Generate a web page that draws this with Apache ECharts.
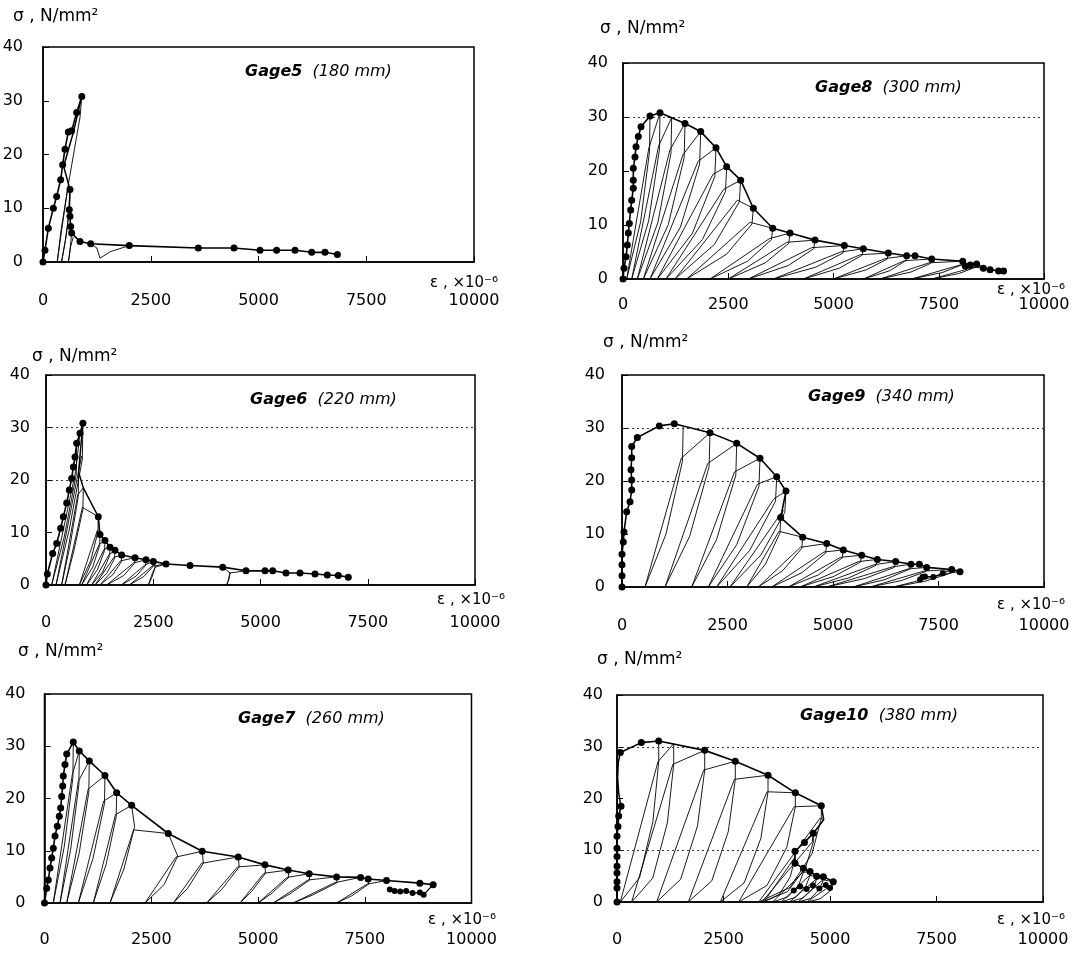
<!DOCTYPE html>
<html><head><meta charset="utf-8">
<script src="https://cdn.jsdelivr.net/npm/echarts/dist/echarts.min.js"></script>
<style>html,body{margin:0;padding:0;background:#fff}#c{width:1086px;height:953px}</style>
</head><body><div id="c"></div>
<script>
// ---------- tick labels / names ----------
const xTicks = [0, 2500, 5000, 7500, 10000];
const yTicks = [0, 10, 20, 30, 40];
const gageNames = ['Gage5', 'Gage8', 'Gage6', 'Gage9', 'Gage7', 'Gage10'];
const gageLengths = ['(180 mm)', '(300 mm)', '(220 mm)', '(340 mm)', '(260 mm)', '(380 mm)'];
const yName = 'σ , N/mm²';
const xName = 'ε , ×10⁻⁶';

// ---------- Gage5 ----------
const env5Rise = [[0,0],[46,2.2],[124,6.3],[240,10],[317,12.2],[410,15.3],[456,18.1],[510,21],[588,24.2],[665,24.4],[781,27.8],[900,30.8]];
const link5 = [[900,30.8],[700,24],[480,17.8],[626,13.5]];
const env5Tail = [[626,13.5],[610,9.7],[626,8.5],[642,6.6],[665,5.4],[858,3.8],[1106,3.4],[2002,3.05],[3603,2.6],[4432,2.6],[5035,2.2],[5420,2.2],[5847,2.2],[6234,1.8],[6543,1.8],[6830,1.4]];
const loops5 = [
  [[900,30.8],[860,27],[600,15],[420,6],[330,0],[470,8],[580,14],[626,13.5]],
  [[626,13.5],[600,9],[520,4],[430,0],[540,5],[610,9.7]],
  [[665,5.4],[630,2.5],[590,0],[640,2.8],[700,4.6]],
  [[1106,3.4],[1250,2.6],[1322,0.7],[1555,1.9],[2002,3.05]]
];
const gridLines5 = [];

// ---------- Gage8 ----------
const env8 = [[0,0],[24,2.0],[71,4.1],[103,6.3],[127,8.5],[150,10.3],[182,12.8],[206,14.6],[245,16.8],[245,18.3],[245,20.5],[285,22.6],[309,24.5],[364,26.4],[428,28.2],[641,30.2],[879,30.8],[1473,28.8],[1845,27.3],[2209,24.3],[2463,20.8],[2795,18.3],[3096,13.1],[3556,9.4],[3967,8.5],[4561,7.2],[5257,6.2],[5708,5.6],[6302,4.8],[6739,4.3],[6936,4.3],[7333,3.7],[8069,3.3],[8130,2.4],[8250,2.6],[8401,2.8],[8560,2.0],[8720,1.7],[8920,1.5],[9040,1.5]];
const loops8 = [
  [[641,30.2],[630,23.6],[419,10.6],[87,0],[613,24.2],[879,30.8]],
  [[879,30.8],[866,24.0],[610,10.8],[206,0],[845,24.6],[1156,29.9]],
  [[1156,29.9],[1140,23.3],[830,10.5],[340,0],[1115,23.9],[1473,28.8]],
  [[1473,28.8],[1453,22.5],[1077,10.1],[483,0],[1423,23.0],[1845,27.3]],
  [[1845,27.3],[1821,21.3],[1363,9.6],[641,0],[1785,21.8],[2209,24.3]],
  [[2209,24.3],[2181,19.0],[1651,8.5],[815,0],[2139,19.4],[2463,20.8]],
  [[2463,20.8],[2434,16.2],[1886,7.3],[1021,0],[2391,16.6],[2795,18.3]],
  [[2795,18.3],[2764,14.3],[2171,6.4],[1235,0],[2717,14.6],[3096,13.1]],
  [[3096,13.1],[3064,10.2],[2462,4.6],[1512,0],[3017,10.5],[3556,9.4]],
  [[3556,9.4],[3526,7.3],[2960,3.3],[2067,0],[3482,7.5],[3967,8.5]],
  [[3967,8.5],[3938,6.6],[3381,3.0],[2502,0],[3894,6.8],[4561,7.2]],
  [[4561,7.2],[4529,5.6],[3927,2.5],[2977,0],[4482,5.8],[5257,6.2]],
  [[5257,6.2],[5223,4.8],[4583,2.2],[3571,0],[5173,5.0],[5708,5.6]],
  [[5708,5.6],[5680,4.4],[5138,2.0],[4283,0],[5637,4.5],[6302,4.8]],
  [[6302,4.8],[6276,3.7],[5780,1.7],[4996,0],[6237,3.8],[6739,4.3]],
  [[6739,4.3],[6718,3.4],[6327,1.5],[5708,0],[6687,3.4],[7333,3.7]],
  [[7333,3.7],[7308,2.9],[6842,1.3],[6105,0],[7272,3.0],[8069,3.3]],
  [[8069,3.3],[8045,2.6],[7584,1.2],[6857,0],[8008,2.6],[8401,2.8]],
  [[8401,2.8],[8380,2.2],[7974,1.0],[7333,0],[8348,2.2],[8560,2.0]]
];
const gridLines8 = [30];

// ---------- Gage6 ----------
const env6Rise = [[0,0],[31,2.1],[155,6.0],[249,7.9],[342,10.8],[404,13.0],[482,15.6],[544,18.1],[598,20.3],[637,22.5],[676,24.4],[715,27.0],[793,28.9],[860,30.8]];
const link6 = [[860,30.8],[760,21.5],[870,18.5],[1219,13.0]];
const env6Tail = [[1219,13.0],[1259,9.6],[1375,8.5],[1492,7.2],[1608,6.6],[1764,5.7],[2075,5.2],[2331,4.8],[2502,4.5],[2797,4.0],[3357,3.7],[4119,3.4],[4662,2.7],[5105,2.7],[5284,2.7],[5594,2.3],[5921,2.3],[6270,2.1],[6557,1.9],[6814,1.8],[7047,1.5]];
const loops6 = [
  [[715,27.0],[705,21],[420,9],[132,0],[690,21.6],[793,28.9]],
  [[860,30.8],[848,24],[540,10.5],[233,0],[830,24.6]],
  [[760,21.5],[752,16.8],[560,7.5],[365,0],[740,17.2],[870,18.5]],
  [[870,18.5],[860,14.4],[650,6.5],[443,0],[849,14.8],[1219,13.0]],
  [[1219,13.0],[1210,10.1],[1042,4.6],[777,0],[1197,10.4],[1259,9.6]],
  [[1259,9.6],[1250,7.5],[1088,3.4],[831,0],[1238,7.7],[1375,8.5]],
  [[1375,8.5],[1366,6.6],[1204,3.0],[948,0],[1354,6.8],[1492,7.2]],
  [[1492,7.2],[1483,5.6],[1321,2.5],[1064,0],[1471,5.8],[1608,6.6]],
  [[1608,6.6],[1599,5.1],[1422,2.3],[1142,0],[1585,5.3],[1764,5.7]],
  [[1764,5.7],[1754,4.4],[1562,2.0],[1259,0],[1739,4.6],[2075,5.2]],
  [[2075,5.2],[2062,4.1],[1811,1.8],[1415,0],[2042,4.2],[2331,4.8]],
  [[2331,4.8],[2320,3.7],[2103,1.7],[1760,0],[2302,3.8],[2502,4.5]],
  [[2502,4.5],[2491,3.5],[2278,1.6],[1943,0],[2474,3.6],[2797,4.0]],
  [[2502,4.5],[2545,3.4],[2470,1.5],[2385,0],[2480,2.2],[2545,3.4],[2797,4.0]],
  [[4119,3.4],[4290,2.3],[4250,1.0],[4212,0],[4270,1.2],[4290,2.3],[4662,2.7]]
];
const gridLines6 = [30, 20];

// ---------- Gage9 ----------
const env9 = [[0,0],[0,2.1],[0,4.2],[0,6.2],[31,8.5],[47,10.4],[111,14.2],[190,16.1],[230,18.3],[230,20.2],[213,22.1],[230,24.4],[230,26.5],[363,28.2],[884,30.4],[1239,30.8],[2085,29.1],[2718,27.1],[3270,24.3],[3666,20.8],[3886,18.1],[3760,13.1],[4282,9.4],[4851,8.2],[5245,7.0],[5680,6.0],[6050,5.2],[6486,4.8],[6848,4.3],[7046,4.3],[7220,3.7],[7813,3.3],[8010,2.9]];
const tail9 = [[7062,1.4],[7120,1.9],[7180,2.0],[7377,1.9],[7600,2.6],[7813,3.3]];
const loops9 = [
  [[1450,30.4],[1432,23.7],[1043,10.0],[545,0],[1405,24.3],[2085,29.1]],
  [[2085,29.1],[2064,22.7],[1605,9.6],[1019,0],[2032,23.3],[2718,27.1]],
  [[2718,27.1],[2697,21.1],[2238,8.9],[1651,0],[2665,21.7],[3270,24.3]],
  [[3270,24.3],[3246,19.0],[2719,8.0],[2045,0],[3209,19.4],[3666,20.8]],
  [[3666,20.8],[3638,16.2],[3026,6.9],[2243,0],[3595,16.6],[3886,18.1]],
  [[3886,18.1],[3859,14.1],[3289,6.0],[2559,0],[3820,14.5],[3760,13.1]],
  [[3760,13.1],[3744,10.2],[3398,4.3],[2955,0],[3720,10.5],[4282,9.4]],
  [[4282,9.4],[4261,7.3],[3809,3.1],[3230,0],[4229,7.5],[4851,8.2]],
  [[4851,8.2],[4825,6.4],[4264,2.7],[3547,0],[4786,6.6],[5245,7.0]],
  [[5245,7.0],[5219,5.5],[4658,2.3],[3941,0],[5180,5.6],[5680,6.0]],
  [[5680,6.0],[5651,4.7],[5022,2.0],[4218,0],[5607,4.8],[6050,5.2]],
  [[6050,5.2],[6020,4.1],[5368,1.7],[4534,0],[5974,4.2],[6486,4.8]],
  [[6486,4.8],[6453,3.7],[5750,1.6],[4850,0],[6404,3.8],[6848,4.3]],
  [[6848,4.3],[6821,3.4],[6233,1.4],[5482,0],[6780,3.4],[7220,3.7]],
  [[7220,3.7],[7193,2.9],[6616,1.2],[5877,0],[7153,3.0],[7813,3.3]],
  [[7813,3.3],[7785,2.6],[7191,1.1],[6430,0],[7744,2.6],[8010,2.9]]
];
const gridLines9 = [30, 20];

// ---------- Gage7 ----------
const env7 = [[0,0],[51,2.8],[89,4.4],[129,6.7],[168,8.6],[206,10.5],[246,12.8],[300,14.7],[346,16.6],[379,18.2],[403,20.4],[426,22.4],[440,24.3],[480,26.5],[520,28.5],[674,30.8],[815,29.1],[1049,27.2],[1416,24.4],[1690,21.1],[2041,18.7],[2898,13.3],[3694,9.9],[4537,8.8],[5162,7.3],[5707,6.3],[6199,5.6],[6840,5.0],[7402,4.9],[7580,4.6],[8010,4.3],[8790,3.8],[9102,3.5]];
const tail7 = [[8087,2.6],[8200,2.3],[8330,2.2],[8470,2.3],[8620,1.9],[8790,2.0],[8880,1.6],[9102,3.5]];
const loops7 = [
  [[674,30.8],[665,24.0],[463,10.8],[206,0],[651,24.6],[815,29.1]],
  [[815,29.1],[806,22.7],[612,10.2],[363,0],[792,23.3],[1049,27.2]],
  [[1049,27.2],[1038,21.2],[811,9.5],[519,0],[1023,21.8],[1416,24.4]],
  [[1416,24.4],[1404,19.0],[1135,8.5],[792,0],[1385,19.5],[1690,21.1]],
  [[1690,21.1],[1679,16.5],[1444,7.4],[1143,0],[1663,16.9],[2041,18.7]],
  [[2041,18.7],[2110,14.6],[1860,6.5],[1533,0],[2085,14.0],[2898,13.3]],
  [[2898,13.3],[3120,9.0],[2800,3.5],[2353,0],[3080,8.8],[3694,9.9]],
  [[3694,9.9],[3720,7.6],[3350,2.8],[3015,0],[3680,7.6],[4537,8.8]],
  [[4537,8.8],[4560,6.9],[4150,2.6],[3797,0],[4520,6.9],[5162,7.3]],
  [[5162,7.3],[5175,5.7],[4850,2.2],[4576,0],[5140,5.7],[5707,6.3]],
  [[5707,6.3],[5720,4.9],[5330,1.9],[5005,0],[5680,4.9],[6199,5.6]],
  [[6199,5.6],[6210,4.4],[5740,1.7],[5356,0],[6170,4.4],[6840,5.0]],
  [[6840,5.0],[6850,3.9],[6300,1.6],[5824,0],[6800,3.9],[7402,4.9]],
  [[7580,4.6],[7590,3.6],[7200,1.4],[6840,0],[7550,3.6],[8010,4.3]]
];
const gridLines7 = [];

// ---------- Gage10 ----------
const env10Rise = [[0,0],[0,2.7],[0,3.9],[0,5.6],[0,6.9],[0,8.8],[0,10.4],[0,12.7],[23,14.6],[39,16.6],[94,18.5]];
const link10 = [[94,18.5],[40,21],[15,24],[30,27],[78,28.9]];
const env10Top = [[78,28.9],[571,30.8],[979,31.1],[2059,29.3],[2777,27.2],[3545,24.5],[4186,21.1],[4796,18.6]];
const link10b = [[4796,18.6],[4852,15.9],[4609,13.3]];
const env10Low = [[4609,13.3],[4400,11.5],[4178,9.8],[4178,7.5],[4374,6.5],[4531,5.9],[4687,5.0],[4844,4.9],[5077,3.9]];
const tail10 = [[4150,2.2],[4300,3.0],[4450,2.5],[4600,3.2],[4750,2.6],[4900,3.3],[5000,2.7]];
const loops10 = [
  [[979,31.1],[979,27.1],[844,15.6],[529,4.7],[78,0],[961,27.1],[1331,30.6]],
  [[1331,30.6],[1331,26.6],[1183,15.3],[838,4.6],[344,0],[1311,26.6],[2059,29.3]],
  [[2059,29.3],[2059,25.5],[1890,14.7],[1495,4.4],[931,0],[2036,25.5],[2777,27.2]],
  [[2777,27.2],[2777,23.7],[2612,13.6],[2226,4.1],[1674,0],[2755,23.7],[3545,24.5]],
  [[3545,24.5],[3545,21.3],[3377,12.3],[2985,3.7],[2425,0],[3523,21.3],[4186,21.1]],
  [[4186,21.1],[4186,18.4],[3987,10.6],[3521,3.2],[2856,0],[4159,18.4],[4796,18.6]],
  [[4796,18.6],[4796,16.2],[4576,9.3],[4061,2.8],[3326,0],[4767,16.2],[4852,15.9]],
  [[4609,13.3],[4609,11.6],[4428,6.7],[4004,2.0],[3400,0],[4585,11.6],[4609,13.3]],
  [[4178,9.8],[4178,8.5],[4069,4.9],[3814,1.5],[3450,0],[4163,8.5]],
  [[4374,6.5],[4374,5.7],[4265,3.3],[4012,1.0],[3650,0],[4360,5.7],[4531,5.9]],
  [[4531,5.9],[4531,5.1],[4429,3.0],[4190,0.9],[3850,0],[4517,5.1],[4687,5.0]],
  [[4687,5.0],[4687,4.4],[4591,2.5],[4368,0.8],[4050,0],[4674,4.4],[4844,4.9]],
  [[4844,4.9],[4844,4.3],[4755,2.5],[4547,0.7],[4250,0],[4832,4.3],[5077,3.9]],
  [[5077,3.9],[5077,3.4],[4983,2.0],[4764,0.6],[4450,0],[5064,3.4]]
];
const gridLines10 = [30, 10];

// ---------- assemble ----------
const panelData = [
  {env: [env5Rise, env5Tail], links: [link5], loops: loops5, tails: [], grid: gridLines5},
  {env: [env8], links: [], loops: loops8, tails: [], grid: gridLines8},
  {env: [env6Rise, env6Tail], links: [link6], loops: loops6, tails: [], grid: gridLines6},
  {env: [env9], links: [], loops: loops9, tails: [tail9], grid: gridLines9},
  {env: [env7], links: [], loops: loops7, tails: [tail7], grid: gridLines7},
  {env: [env10Rise, env10Top, env10Low], links: [link10, link10b], loops: loops10, tails: [tail10], grid: gridLines10}
];
const layout = [
  {box: {left: 43, top: 47, width: 431, height: 215}, xm: 31, ym: 20, sig: [13, 8], eps: [430, 276], ttl: [245, 64]},
  {box: {left: 623, top: 63, width: 421, height: 216}, xm: 18, ym: 15, sig: [600, 20], eps: [997, 283], ttl: [815, 80]},
  {box: {left: 46, top: 375, width: 429, height: 210}, xm: 30, ym: 16, sig: [32, 348], eps: [437, 593], ttl: [250, 392]},
  {box: {left: 622, top: 375, width: 422, height: 212}, xm: 31, ym: 17, sig: [603, 334], eps: [997, 598], ttl: [808, 389]},
  {box: {left: 44.5, top: 694, width: 427, height: 209}, xm: 29, ym: 19, sig: [18, 643], eps: [428, 913], ttl: [238, 711]},
  {box: {left: 617, top: 695, width: 426, height: 207}, xm: 30, ym: 14, sig: [597, 651], eps: [997, 913], ttl: [800, 708]}
];

const FONT = 'DejaVu Sans';
const grids = [], xAxes = [], yAxes = [], series = [], titles = [], graphics = [];
const plain = v => String(v);

layout.forEach((L, i) => {
  const D = panelData[i];
  grids.push(Object.assign({show: true, borderColor: '#000', borderWidth: 1.5, backgroundColor: 'transparent', containLabel: false, outerBoundsMode: 'none'}, L.box));
  xAxes.push({
    type: 'value', gridIndex: i, min: xTicks[0], max: xTicks[xTicks.length - 1], interval: xTicks[1] - xTicks[0],
    axisLine: {show: true, onZero: false, lineStyle: {color: '#000', width: 1.5}},
    axisTick: {show: true, inside: true, length: 6, lineStyle: {color: '#000', width: 1}},
    splitLine: {show: false},
    axisLabel: {margin: L.xm, color: '#000', fontSize: 16, fontFamily: FONT, showMinLabel: true, showMaxLabel: true, formatter: plain}
  });
  yAxes.push({
    type: 'value', gridIndex: i, min: yTicks[0], max: yTicks[yTicks.length - 1], interval: yTicks[1] - yTicks[0],
    axisLine: {show: true, onZero: false, lineStyle: {color: '#000', width: 1.5}},
    axisTick: {show: true, inside: true, length: 6, lineStyle: {color: '#000', width: 1}},
    splitLine: {show: false},
    axisLabel: {margin: L.ym, color: '#000', fontSize: 16, fontFamily: FONT, showMinLabel: true, showMaxLabel: true, formatter: plain}
  });
  const base = {type: 'line', xAxisIndex: i, yAxisIndex: i, silent: true, animation: false, smooth: false};
  D.loops.forEach(lp => series.push(Object.assign({}, base, {data: lp, showSymbol: false, symbol: 'none', lineStyle: {color: '#000', width: 0.9}, z: 2})));
  D.links.forEach(lk => series.push(Object.assign({}, base, {data: lk, showSymbol: false, symbol: 'none', lineStyle: {color: '#000', width: 1.5}, z: 3})));
  D.tails.forEach(t => series.push(Object.assign({}, base, {data: t, showSymbol: true, symbol: 'circle', symbolSize: 6, itemStyle: {color: '#000'}, lineStyle: {color: '#000', width: 1.2}, z: 4})));
  D.env.forEach((e, k) => {
    const s = Object.assign({}, base, {data: e, showSymbol: true, symbol: 'circle', symbolSize: 7, itemStyle: {color: '#000'}, lineStyle: {color: '#000', width: 1.6}, z: 5});
    if (k === 0 && D.grid.length) {
      s.markLine = {silent: true, symbol: ['none', 'none'], label: {show: false}, animation: false,
        lineStyle: {color: '#333', type: [2, 3], width: 1}, data: D.grid.map(v => ({yAxis: v}))};
    }
    series.push(s);
  });
  titles.push({
    text: '{b|' + gageNames[i] + '}  {i|' + gageLengths[i] + '}', left: L.ttl[0], top: L.ttl[1], padding: 0,
    textStyle: {fontWeight: 'normal', fontSize: 16, fontFamily: FONT, color: '#000', rich: {
      b: {fontWeight: 'bold', fontStyle: 'italic', fontSize: 16, fontFamily: FONT, color: '#000'},
      i: {fontWeight: 'normal', fontStyle: 'italic', fontSize: 16, fontFamily: FONT, color: '#000'}
    }}
  });
  graphics.push({type: 'text', left: L.sig[0], top: L.sig[1], silent: true, style: {text: yName, fontSize: 17, fontFamily: FONT, fill: '#000'}});
  graphics.push({type: 'text', left: L.eps[0], top: L.eps[1], silent: true, style: {text: xName, fontSize: 15, fontFamily: FONT, fill: '#000'}});
});

const chart = echarts.init(document.getElementById('c'), null, {renderer: 'canvas'});
chart.setOption({
  backgroundColor: '#fff', animation: false,
  title: titles, grid: grids, xAxis: xAxes, yAxis: yAxes, series: series, graphic: graphics
});
</script></body></html>
